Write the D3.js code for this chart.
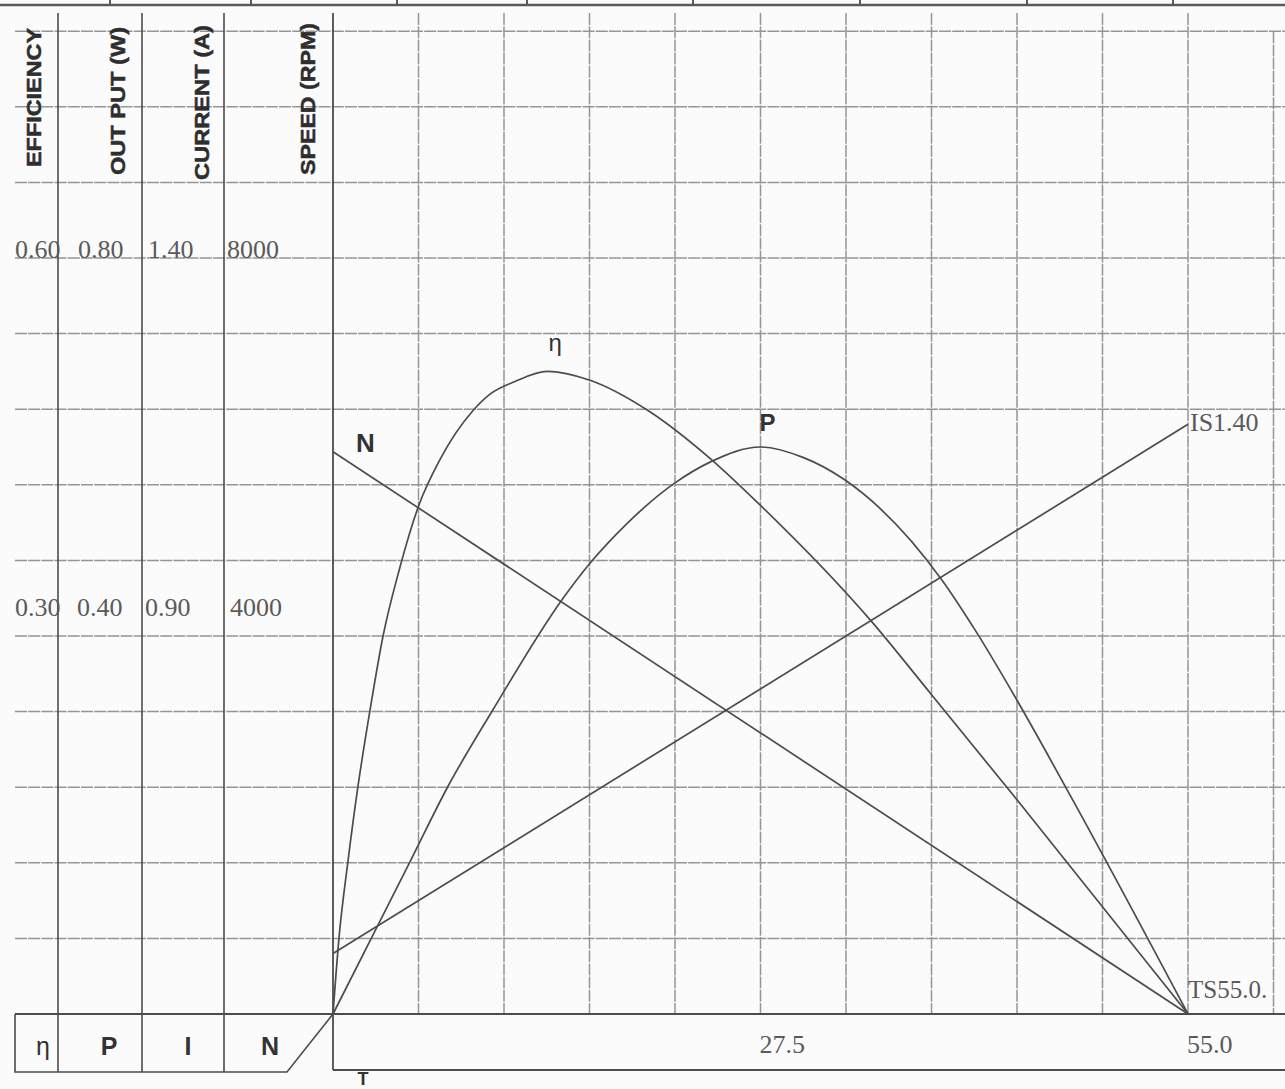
<!DOCTYPE html>
<html><head><meta charset="utf-8">
<script src="https://cdn.jsdelivr.net/npm/d3@7"></script>
<style>
html,body{margin:0;padding:0;background:#fcfbfc;}
svg{display:block;}
</style></head>
<body>
<script>
// ---- data ----
const speedT = [0, 55];
const speedN = [5950, 0];
const currentT = [0, 55];
const currentI = [0.48, 1.18];
const outputT = [0, 2.51, 4.95, 7.40, 10.29, 14.80, 16.53, 18.91, 22.0, 24.25, 27.5, 30.23, 32.94, 39.18, 41.43, 44.0, 47.6, 55];
const outputP = [0, 0.0815, 0.161, 0.241, 0.322, 0.440, 0.477, 0.519, 0.562, 0.584, 0.600, 0.589, 0.565, 0.459, 0.403, 0.332, 0.226, 0];
const effT = [0, 0.39, 0.96, 1.61, 2.38, 3.22, 4.25, 5.53, 6.88, 9.01, 10.10, 11.71, 13.77, 16.53, 20.26, 24.25, 27.47, 34.68, 38.40, 44.0, 55];
const effE = [0, 0.061, 0.121, 0.181, 0.241, 0.300, 0.352, 0.404, 0.440, 0.479, 0.492, 0.502, 0.510, 0.503, 0.479, 0.441, 0.404, 0.311, 0.255, 0.170, 0];
const effTicks = ["0.60", "0.30"];
const outTicks = ["0.80", "0.40"];
const curTicks = ["1.40", "0.90"];
const spdTicks = ["8000", "4000"];
const xTickValues = [27.5, 55.0];
const headers = ["EFFICIENCY", "OUT PUT (W)", "CURRENT (A)", "SPEED (RPM)"];
const boxLabels = ["η", "P", "I", "N"];
const stallTorqueLabel = "TS55.0.";
const stallCurrentLabel = "IS1.40";

// ---- scales ----
const W = 1285, H = 1089;
const x = d3.scaleLinear().domain([0, 55]).range([333, 1188]);
const yN = d3.scaleLinear().domain([0, 8000]).range([1014, 258]);
const yI = d3.scaleLinear().domain([0.40, 1.40]).range([1014, 258]);
const yP = d3.scaleLinear().domain([0, 0.80]).range([1014, 258]);
const yE = d3.scaleLinear().domain([0, 0.60]).range([1014, 258]);

const svg = d3.select("body").append("svg").attr("width", W).attr("height", H);
svg.append("rect").attr("width", W).attr("height", H).attr("fill", "#fcfbfc");

const lineCol = "#4c4c4c";
const gridCol = "#959595";
const serif = "'Liberation Serif','Times New Roman',serif";
const sans = "'Liberation Sans',Arial,sans-serif";

// top partial table border
svg.append("line").attr("x1", 0).attr("x2", W).attr("y1", 5).attr("y2", 5)
  .attr("stroke", "#5a5a5a").attr("stroke-width", 2.5);
[110, 251, 397, 527, 693, 860, 1027, 1173].forEach(px => {
  svg.append("line").attr("x1", px).attr("x2", px).attr("y1", 0).attr("y2", 6)
    .attr("stroke", "#5a5a5a").attr("stroke-width", 2);
});

// horizontal grid
const hGrid = d3.range(800, 10401, 800);
svg.append("g").selectAll("line").data(hGrid).join("line")
  .attr("x1", 15).attr("x2", W)
  .attr("y1", d => yN(d)).attr("y2", d => yN(d))
  .attr("stroke", gridCol).attr("stroke-width", 1.5)
  .attr("stroke-dasharray", "12,1.2");

// vertical grid
const vGrid = d3.range(1, 12).map(k => k * 5.5);
svg.append("g").selectAll("line").data(vGrid).join("line")
  .attr("x1", d => x(d)).attr("x2", d => x(d))
  .attr("y1", d => d > 56 ? yN(10400) : 13).attr("y2", yN(0))
  .attr("stroke", gridCol).attr("stroke-width", 1.5)
  .attr("stroke-dasharray", "12,1.2");

// left column separators
[58, 142, 224].forEach(px => {
  svg.append("line").attr("x1", px).attr("x2", px).attr("y1", 13).attr("y2", 1072)
    .attr("stroke", lineCol).attr("stroke-width", 1.6);
});
// plot left axis
svg.append("line").attr("x1", x(0)).attr("x2", x(0)).attr("y1", 13).attr("y2", 1070)
  .attr("stroke", lineCol).attr("stroke-width", 1.8);

// bottom box
svg.append("line").attr("x1", 15).attr("x2", W).attr("y1", yN(0)).attr("y2", yN(0))
  .attr("stroke", lineCol).attr("stroke-width", 2);
svg.append("path")
  .attr("d", `M15,${yN(0)} L15,1072 L287,1072 L${x(0)},${yN(0)}`)
  .attr("fill", "none").attr("stroke", lineCol).attr("stroke-width", 1.6);
svg.append("path")
  .attr("d", `M${x(0)},1070 L${W},1070`)
  .attr("fill", "none").attr("stroke", lineCol).attr("stroke-width", 2);

// header labels (rotated)
const headX = [41, 125, 209, 315];
const headBottom = [167, 175, 180, 175];
const headLen = [139, 148, 155, 152];
headers.forEach((t, i) => {
  svg.append("text")
    .attr("transform", `translate(${headX[i]},${headBottom[i]}) rotate(-90)`)
    .attr("font-family", sans).attr("font-weight", "bold").attr("font-size", 21)
    .attr("fill", "#2e2e2e").attr("stroke", "#2e2e2e").attr("stroke-width", 0.5)
    .attr("textLength", headLen[i]).attr("lengthAdjust", "spacingAndGlyphs")
    .text(t);
});

// tick labels on left
const tickCols = [effTicks, outTicks, curTicks, spdTicks];
const tickColX = [[15, 15], [78, 77], [148, 145], [227, 230]];
const tickRowY = [yN(8000), yN(4000) - 20];
tickCols.forEach((arr, c) => {
  arr.forEach((t, r) => {
    svg.append("text").attr("x", tickColX[c][r]).attr("y", tickRowY[r])
      .attr("font-family", serif).attr("font-size", 26).attr("fill", "#5a5a5a")
      .text(t);
  });
});

// curves
const lineGen = (xs, ys, ys_scale, curve) => d3.line()
  .x((d, i) => x(xs[i])).y((d, i) => ys_scale(ys[i])).curve(curve)(xs);

svg.append("path").attr("d", lineGen(speedT, speedN, yN, d3.curveLinear))
  .attr("fill", "none").attr("stroke", lineCol).attr("stroke-width", 1.7);
svg.append("path").attr("d", lineGen(currentT, currentI, yI, d3.curveLinear))
  .attr("fill", "none").attr("stroke", lineCol).attr("stroke-width", 1.7);
svg.append("path").attr("d", lineGen(outputT, outputP, yP, d3.curveMonotoneX))
  .attr("fill", "none").attr("stroke", lineCol).attr("stroke-width", 1.7);
svg.append("path").attr("d", lineGen(effT, effE, yE, d3.curveMonotoneX))
  .attr("fill", "none").attr("stroke", lineCol).attr("stroke-width", 1.7);

// curve labels
const ei = d3.maxIndex(effE);
svg.append("text").attr("x", x(effT[ei]) + 8).attr("y", yE(effE[ei]) - 20)
  .attr("text-anchor", "middle").attr("font-family", sans).attr("font-size", 24)
  .attr("fill", "#333").text("η");
const pi = d3.maxIndex(outputP);
svg.append("text").attr("x", x(outputT[pi]) - 1).attr("y", yP(outputP[pi]) - 16)
  .attr("font-family", sans).attr("font-weight", "bold").attr("font-size", 24)
  .attr("fill", "#333").text("P");
svg.append("text").attr("x", x(0) + 23).attr("y", yN(speedN[0]))
  .attr("font-family", sans).attr("font-weight", "bold").attr("font-size", 26)
  .attr("fill", "#333").text("N");

// end labels
svg.append("text").attr("x", x(55) + 2).attr("y", yI(currentI[1]) + 7)
  .attr("font-family", serif).attr("font-size", 26).attr("fill", "#5a5a5a")
  .text(stallCurrentLabel);
svg.append("text").attr("x", x(55)).attr("y", yN(0) - 16)
  .attr("font-family", serif).attr("font-size", 25).attr("fill", "#5a5a5a")
  .text(stallTorqueLabel);

// x tick labels
svg.append("g").selectAll("text").data(xTickValues).join("text")
  .attr("x", d => x(d) - 1).attr("y", 1053)
  .attr("font-family", serif).attr("font-size", 26).attr("fill", "#5a5a5a")
  .text(d => d3.format(".1f")(d));

// bottom box labels
const boxX = [43, 109, 188, 270];
boxLabels.forEach((t, i) => {
  svg.append("text").attr("x", boxX[i]).attr("y", 1055)
    .attr("text-anchor", "middle").attr("font-family", sans)
    .attr("font-weight", t === "η" ? "normal" : "bold").attr("font-size", 25)
    .attr("fill", "#333").text(t);
});
// T label
svg.append("text").attr("x", 363).attr("y", 1085)
  .attr("text-anchor", "middle").attr("font-family", sans).attr("font-weight", "bold")
  .attr("font-size", 18).attr("fill", "#333").text("T");
</script>
</body></html>
